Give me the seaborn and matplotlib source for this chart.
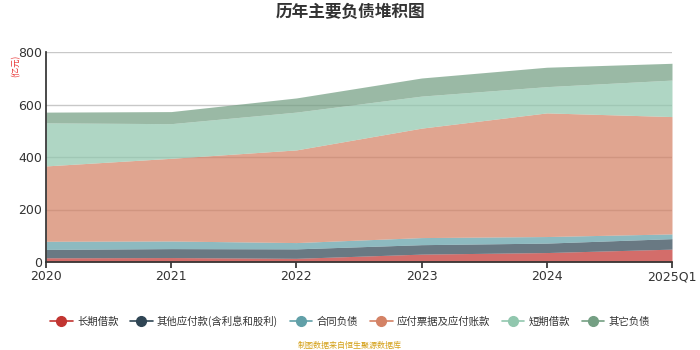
import matplotlib
matplotlib.use("Agg")
import matplotlib.pyplot as plt
from matplotlib.lines import Line2D
import seaborn as sns
import numpy as np

categories = ["2020", "2021", "2022", "2023", "2024", "2025Q1"]
long_term = [16, 17, 14, 30, 36, 49]
other_payables = [32, 34, 36, 36, 36, 40]
contract_liab = [31, 29, 24, 27, 25, 18]
notes_ap = [287, 315, 353, 417, 471, 447]
short_term = [164, 132, 144, 122, 100, 139]
other_liab = [41, 46, 54, 69, 74, 64]

series_names = ["长期借款", "其他应付款(含利息和股利)", "合同负债", "应付票据及应付账款", "短期借款", "其它负债"]
colors = ["#c23531", "#2f4554", "#61a0a8", "#d48265", "#91c7ae", "#749f83"]
y_ticks = [0, 200, 400, 600, 800]

sns.set_theme(style="white")
plt.rcParams['font.family'] = ['Noto Sans CJK SC', 'DejaVu Sans']

fig = plt.figure(figsize=(7, 3.5), dpi=100)
ax = fig.add_axes([46/700, 88/350, 626/700, 210/350])

x = np.arange(len(categories))
ax.stackplot(x, long_term, other_payables, contract_liab, notes_ap, short_term, other_liab,
             colors=colors, alpha=0.72, linewidth=0)

ax.set_xlim(0, len(categories) - 1)
ax.set_ylim(0, 800)
ax.set_yticks(y_ticks)
ax.set_yticklabels([str(v) for v in y_ticks], fontsize=9, color="#333333")
ax.set_xticks(x)
ax.set_xticklabels(categories, fontsize=9, color="#333333", family=["DejaVu Sans"])
ax.grid(axis="y", color="#c8c8c8", linewidth=1)
ax.set_axisbelow(True)
for s in ["top", "right"]:
    ax.spines[s].set_visible(False)
ax.spines["left"].set_color("#333333")
ax.spines["bottom"].set_color("#333333")
ax.spines["left"].set_zorder(5)
ax.spines["bottom"].set_zorder(5)
ax.tick_params(axis="x", direction="out", length=4, color="#333333", bottom=True, pad=2)
ax.tick_params(axis="y", length=0, pad=3)
for lbl in ax.get_yticklabels():
    lbl.set_family(["DejaVu Sans"])

fig.text(0.5, 0.965, "历年主要负债堆积图", ha="center", va="center", fontsize=12, fontweight="bold", color="#333333")
fig.text(16/700, 1 - 66/350, "(亿元)", rotation=90, ha="center", va="center", fontsize=6, color="#e83030")

handles = [Line2D([0], [0], color=c, marker="o", markersize=7, linewidth=1.2) for c in colors]
fig.legend(handles, series_names, loc="center", bbox_to_anchor=(0.5, 1 - 321/350), ncol=6,
           frameon=False, fontsize=7.5, handlelength=2.2, columnspacing=1.1, handletextpad=0.4,
           labelcolor="#333333")

fig.text(0.5, 1 - 345/350, "制图数据来自恒生聚源数据库", ha="center", va="center", fontsize=5.8, color="#d4a017")

fig.savefig("out.png", dpi=100)
